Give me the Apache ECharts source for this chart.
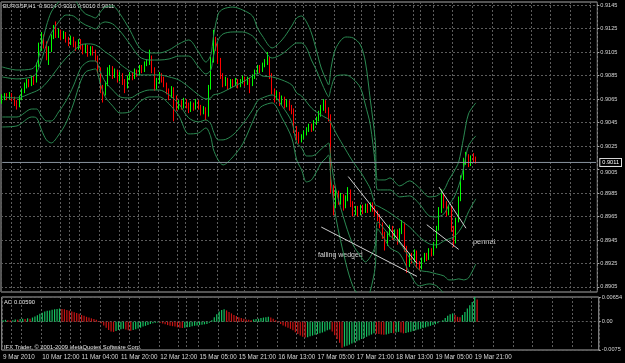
<!DOCTYPE html>
<html>
<head>
<meta charset="utf-8">
<title>EURGBP,H1</title>
<script src="https://cdn.jsdelivr.net/npm/echarts@6/dist/echarts.min.js"></script>
<style>
html,body{margin:0;padding:0;background:#000;}
#main{width:625px;height:363px;}
</style>
</head>
<body>
<div id="main"></div>
<script>
// bars per trading day: [day, first hour, last hour]
var dayBars = [['9 Mar',20,23],['10 Mar',0,23],['11 Mar',0,23],['12 Mar',0,22],['15 Mar',0,23],
               ['16 Mar',0,23],['17 Mar',0,23],['18 Mar',0,23],['19 Mar',0,22]];
var firstLabel = '9 Mar 2010';
var slots = 243;                       // bars that fit in the window
var daySeps = [4, 28, 52, 75, 99, 123, 147, 171];

// [open, close, low, high]
var candles = [
 [0.9064,0.9066,0.9061,0.9069],[0.9066,0.9068,0.9064,0.9070],[0.9068,0.9067,0.9064,0.9070],[0.9067,0.9069,0.9065,0.9071],
 [0.9069,0.9065,0.9063,0.9070],[0.9065,0.9062,0.9059,0.9067],[0.9062,0.9060,0.9056,0.9064],[0.9060,0.9066,0.9058,0.9068],
 [0.9066,0.9072,0.9064,0.9074],[0.9072,0.9076,0.9070,0.9079],[0.9076,0.9080,0.9074,0.9082],[0.9080,0.9078,0.9075,0.9082],
 [0.9078,0.9083,0.9076,0.9085],[0.9083,0.9081,0.9077,0.9085],[0.9081,0.9094,0.9079,0.9096],[0.9094,0.9110,0.9092,0.9113],
 [0.9110,0.9118,0.9106,0.9122],[0.9118,0.9112,0.9108,0.9120],[0.9112,0.9100,0.9098,0.9114],[0.9100,0.9108,0.9094,0.9110],
 [0.9108,0.9118,0.9105,0.9120],[0.9118,0.9125,0.9116,0.9128],[0.9125,0.9120,0.9117,0.9131],[0.9120,0.9122,0.9117,0.9125],
 [0.9122,0.9118,0.9115,0.9124],[0.9118,0.9121,0.9116,0.9123],[0.9121,0.9116,0.9113,0.9122],[0.9116,0.9113,0.9110,0.9118],
 [0.9113,0.9117,0.9111,0.9119],[0.9117,0.9112,0.9109,0.9118],[0.9112,0.9109,0.9106,0.9114],[0.9109,0.9114,0.9107,0.9116],
 [0.9114,0.9110,0.9107,0.9116],[0.9110,0.9106,0.9103,0.9112],[0.9106,0.9110,0.9104,0.9112],[0.9110,0.9104,0.9101,0.9111],
 [0.9104,0.9108,0.9102,0.9110],[0.9108,0.9105,0.9102,0.9110],[0.9105,0.9100,0.9097,0.9107],[0.9100,0.9090,0.9087,0.9102],
 [0.9090,0.9075,0.9070,0.9092],[0.9075,0.9070,0.9062,0.9077],[0.9070,0.9078,0.9068,0.9080],[0.9078,0.9088,0.9076,0.9092],
 [0.9088,0.9091,0.9085,0.9094],[0.9091,0.9085,0.9082,0.9093],[0.9085,0.9089,0.9083,0.9091],[0.9089,0.9082,0.9079,0.9090],
 [0.9082,0.9086,0.9080,0.9088],[0.9086,0.9080,0.9077,0.9087],[0.9080,0.9076,0.9070,0.9082],[0.9076,0.9083,0.9074,0.9085],
 [0.9083,0.9086,0.9081,0.9088],[0.9086,0.9084,0.9081,0.9088],[0.9084,0.9089,0.9082,0.9091],[0.9089,0.9087,0.9084,0.9090],
 [0.9087,0.9092,0.9085,0.9094],[0.9092,0.9090,0.9087,0.9094],[0.9090,0.9095,0.9088,0.9097],[0.9095,0.9097,0.9093,0.9099],
 [0.9097,0.9100,0.9094,0.9107],[0.9100,0.9090,0.9087,0.9102],[0.9090,0.9075,0.9072,0.9092],[0.9075,0.9080,0.9073,0.9083],
 [0.9080,0.9086,0.9078,0.9088],[0.9086,0.9082,0.9079,0.9087],[0.9082,0.9078,0.9075,0.9084],[0.9078,0.9072,0.9069,0.9079],
 [0.9072,0.9068,0.9064,0.9074],[0.9068,0.9074,0.9066,0.9076],[0.9074,0.9066,0.9046,0.9075],[0.9066,0.9058,0.9055,0.9068],
 [0.9058,0.9062,0.9056,0.9064],[0.9062,0.9059,0.9056,0.9064],[0.9059,0.9064,0.9057,0.9066],[0.9064,0.9060,0.9057,0.9065],
 [0.9060,0.9056,0.9053,0.9062],[0.9056,0.9061,0.9054,0.9063],[0.9061,0.9058,0.9055,0.9062],[0.9058,0.9063,0.9056,0.9065],
 [0.9063,0.9059,0.9056,0.9064],[0.9059,0.9054,0.9051,0.9060],[0.9054,0.9057,0.9052,0.9059],[0.9057,0.9052,0.9047,0.9058],
 [0.9052,0.9075,0.9050,0.9077],[0.9075,0.9098,0.9073,0.9101],[0.9098,0.9115,0.9096,0.9124],[0.9115,0.9110,0.9106,0.9118],
 [0.9110,0.9098,0.9095,0.9112],[0.9098,0.9085,0.9082,0.9100],[0.9085,0.9078,0.9075,0.9087],[0.9078,0.9082,0.9076,0.9084],
 [0.9082,0.9076,0.9073,0.9083],[0.9076,0.9080,0.9074,0.9082],[0.9080,0.9078,0.9075,0.9082],[0.9078,0.9081,0.9076,0.9083],
 [0.9081,0.9077,0.9074,0.9082],[0.9077,0.9080,0.9075,0.9082],[0.9080,0.9083,0.9078,0.9085],[0.9083,0.9079,0.9076,0.9084],
 [0.9079,0.9082,0.9077,0.9084],[0.9082,0.9078,0.9070,0.9083],[0.9078,0.9084,0.9076,0.9086],[0.9084,0.9088,0.9082,0.9090],
 [0.9088,0.9092,0.9086,0.9094],[0.9092,0.9090,0.9087,0.9094],[0.9090,0.9094,0.9088,0.9096],[0.9094,0.9097,0.9092,0.9099],
 [0.9097,0.9099,0.9094,0.9105],[0.9099,0.9085,0.9082,0.9101],[0.9085,0.9072,0.9069,0.9087],[0.9072,0.9066,0.9062,0.9074],
 [0.9066,0.9070,0.9064,0.9072],[0.9070,0.9062,0.9059,0.9071],[0.9062,0.9066,0.9060,0.9068],[0.9066,0.9060,0.9057,0.9067],
 [0.9060,0.9063,0.9058,0.9065],[0.9063,0.9058,0.9055,0.9064],[0.9058,0.9055,0.9052,0.9060],[0.9055,0.9040,0.9036,0.9057],
 [0.9040,0.9035,0.9030,0.9042],[0.9035,0.9030,0.9027,0.9037],[0.9030,0.9033,0.9028,0.9035],[0.9033,0.9036,0.9031,0.9038],
 [0.9036,0.9039,0.9034,0.9041],[0.9039,0.9042,0.9037,0.9044],[0.9042,0.9040,0.9037,0.9044],[0.9040,0.9045,0.9038,0.9047],
 [0.9045,0.9048,0.9043,0.9050],[0.9048,0.9052,0.9046,0.9055],[0.9052,0.9058,0.9050,0.9060],[0.9058,0.9062,0.9055,0.9065],
 [0.9062,0.9056,0.9053,0.9064],[0.9056,0.9050,0.9046,0.9058],[0.9050,0.8990,0.8985,0.9052],[0.8990,0.8975,0.8966,0.8992],
 [0.8975,0.8985,0.8972,0.8990],[0.8985,0.8978,0.8975,0.8987],[0.8978,0.8982,0.8975,0.8985],[0.8982,0.8974,0.8970,0.8984],
 [0.8974,0.8980,0.8972,0.8983],[0.8980,0.8986,0.8978,0.8990],[0.8986,0.8976,0.8973,0.8988],[0.8976,0.8969,0.8965,0.8978],
 [0.8969,0.8972,0.8966,0.8974],[0.8972,0.8968,0.8965,0.8974],[0.8968,0.8973,0.8966,0.8975],[0.8973,0.8970,0.8967,0.8975],
 [0.8970,0.8974,0.8968,0.8976],[0.8974,0.8971,0.8968,0.8976],[0.8971,0.8975,0.8969,0.8977],[0.8975,0.8972,0.8969,0.8977],
 [0.8972,0.8968,0.8965,0.8974],[0.8968,0.8965,0.8961,0.8970],[0.8965,0.8958,0.8955,0.8967],[0.8958,0.8950,0.8946,0.8960],
 [0.8950,0.8942,0.8936,0.8952],[0.8942,0.8950,0.8940,0.8952],[0.8950,0.8955,0.8948,0.8958],[0.8955,0.8948,0.8945,0.8957],
 [0.8948,0.8952,0.8946,0.8954],[0.8952,0.8945,0.8941,0.8954],[0.8945,0.8952,0.8943,0.8955],[0.8952,0.8958,0.8950,0.8962],
 [0.8958,0.8938,0.8935,0.8960],[0.8938,0.8925,0.8917,0.8940],[0.8925,0.8932,0.8922,0.8934],[0.8932,0.8928,0.8925,0.8934],
 [0.8928,0.8935,0.8926,0.8937],[0.8935,0.8925,0.8921,0.8936],[0.8925,0.8922,0.8919,0.8927],[0.8922,0.8928,0.8920,0.8930],
 [0.8928,0.8932,0.8926,0.8934],[0.8932,0.8930,0.8927,0.8934],[0.8930,0.8936,0.8928,0.8938],[0.8936,0.8934,0.8931,0.8938],
 [0.8934,0.8940,0.8932,0.8943],[0.8940,0.8955,0.8938,0.8957],[0.8955,0.8970,0.8953,0.8973],[0.8970,0.8982,0.8968,0.8988],
 [0.8982,0.8976,0.8972,0.8985],[0.8976,0.8968,0.8965,0.8978],[0.8968,0.8972,0.8966,0.8975],[0.8972,0.8955,0.8952,0.8974],
 [0.8955,0.8944,0.8939,0.8957],[0.8944,0.8962,0.8942,0.8964],[0.8962,0.8980,0.8960,0.8982],[0.8980,0.8998,0.8978,0.9000],
 [0.8998,0.9012,0.8996,0.9015],[0.9012,0.9016,0.9009,0.9020],[0.9016,0.9010,0.9007,0.9018],[0.9010,0.9015,0.9008,0.9017],
 [0.9015,0.9014,0.9011,0.9019],[0.9014,0.9011,0.9010,0.9016]
];

var priceTicks = [0.8905,0.8925,0.8945,0.8965,0.8985,0.9005,0.9025,0.9045,0.9065,0.9085,0.9105,0.9125,0.9145];
var lastPrice = 0.9011;
var titleText = 'EURGBP,H1  0.9014 0.9016 0.9010 0.9011';

// bollinger lines read at these bars
var bandIdx = [0,6,12,14,16,18,20,23,26,29, 32,34,36,38,40,42,45,48,52,56,
               60,64,68,72,76,80,83,85,86,88, 90,94,98,102,104,106,110,114,118,120,
               122,124,126,128,130,132,133,134,136,140, 143,146,148,150,152,153,156,158,162,166,
               170,174,177,180,182,184,186,188,190,193];
var bbUp3 = [0.90923,0.90897,0.90906,0.90948,0.91102,0.91272,0.91391,0.91476,0.91536,0.91510,
             0.91416,0.91374,0.91357,0.91340,0.91391,0.91433,0.91442,0.91374,0.91238,0.91085,
             0.91042,0.91042,0.91068,0.91119,0.91153,0.91051,0.90965,0.91025,0.91170,0.91374,
             0.91416,0.91433,0.91408,0.91357,0.91255,0.91187,0.91085,0.91153,0.91272,0.91340,
             0.91357,0.91306,0.91212,0.91068,0.90914,0.90812,0.90770,0.90914,0.91085,0.91178,
             0.91170,0.91110,0.90965,0.90642,0.90302,0.89961,0.89961,0.89978,0.89910,0.89953,
             0.89893,0.89817,0.89825,0.89876,0.89961,0.90029,0.90114,0.90319,0.90523,0.90617];
var bbUp2 = [0.90838,0.90821,0.90838,0.90872,0.90982,0.91110,0.91212,0.91306,0.91365,0.91357,
             0.91306,0.91280,0.91263,0.91246,0.91289,0.91306,0.91289,0.91229,0.91119,0.91008,
             0.90982,0.90982,0.90991,0.91016,0.91016,0.90923,0.90863,0.90897,0.91008,0.91153,
             0.91204,0.91221,0.91221,0.91187,0.91136,0.91085,0.90999,0.91033,0.91102,0.91127,
             0.91127,0.91085,0.90982,0.90897,0.90795,0.90702,0.90668,0.90744,0.90846,0.90855,
             0.90821,0.90744,0.90599,0.90429,0.90097,0.89876,0.89876,0.89876,0.89817,0.89825,
             0.89757,0.89655,0.89646,0.89672,0.89748,0.89808,0.89910,0.90063,0.90251,0.90336];
var bbMid = [0.90668,0.90659,0.90702,0.90719,0.90744,0.90787,0.90838,0.90923,0.90999,0.91059,
             0.91110,0.91119,0.91119,0.91110,0.91085,0.91051,0.91008,0.90948,0.90889,0.90855,
             0.90855,0.90855,0.90838,0.90812,0.90753,0.90685,0.90651,0.90659,0.90685,0.90693,
             0.90710,0.90753,0.90795,0.90846,0.90872,0.90846,0.90838,0.90812,0.90770,0.90702,
             0.90676,0.90625,0.90574,0.90540,0.90514,0.90489,0.90480,0.90446,0.90361,0.90217,
             0.90114,0.90029,0.89961,0.89885,0.89748,0.89740,0.89706,0.89680,0.89621,0.89561,
             0.89476,0.89417,0.89408,0.89442,0.89459,0.89476,0.89519,0.89587,0.89689,0.89800];
var bbLo2 = [0.90497,0.90497,0.90565,0.90565,0.90506,0.90463,0.90463,0.90540,0.90634,0.90761,
             0.90914,0.90957,0.90974,0.90974,0.90880,0.90795,0.90727,0.90668,0.90659,0.90702,
             0.90727,0.90727,0.90685,0.90608,0.90489,0.90455,0.90472,0.90438,0.90378,0.90302,
             0.90302,0.90344,0.90438,0.90557,0.90634,0.90659,0.90685,0.90591,0.90455,0.90276,
             0.90234,0.90165,0.90165,0.90183,0.90225,0.90259,0.90276,0.90123,0.89876,0.89578,
             0.89408,0.89314,0.89263,0.89306,0.89400,0.89604,0.89536,0.89485,0.89425,0.89297,
             0.89195,0.89178,0.89161,0.89144,0.89110,0.89110,0.89119,0.89110,0.89127,0.89246];
var bbLo3 = [0.90412,0.90421,0.90497,0.90489,0.90387,0.90302,0.90276,0.90344,0.90446,0.90608,
             0.90804,0.90880,0.90897,0.90906,0.90778,0.90668,0.90591,0.90531,0.90540,0.90625,
             0.90668,0.90668,0.90608,0.90506,0.90353,0.90361,0.90404,0.90327,0.90225,0.90131,
             0.90089,0.90157,0.90268,0.90455,0.90548,0.90591,0.90617,0.90489,0.90319,0.90131,
             0.90046,0.89944,0.89961,0.90029,0.90106,0.90148,0.90174,0.89961,0.89638,0.89255,
             0.89051,0.88957,0.88915,0.89017,0.89221,0.89544,0.89451,0.89383,0.89332,0.89170,
             0.89059,0.89076,0.89059,0.88991,0.88923,0.88923,0.88932,0.88872,0.88838,0.88974];

// awesome oscillator, one value per bar
var aoValues = [
 0.0004,0.0005,0.0004,0.0003, 0.0004,0.0006,0.0005,0.0007,0.0008,0.0007,0.0009,0.0008,
 0.0011,0.0014,0.0017,0.0021,0.0024, 0.0027,0.0029,0.0030,0.0032,0.0033,0.0034,0.0035,0.0034,
 0.0033,0.0031,0.0029,0.0027,0.0025,0.0023,0.0021, 0.0018,0.0016,0.0013,0.0011,0.0009,0.0007,0.0005,0.0002,
 -0.0004,-0.0010,-0.0016,-0.0022,-0.0026,-0.0027,-0.0025,-0.0022,
 -0.0020,-0.0019,-0.0021,-0.0023,-0.0024,-0.0022,-0.0020,-0.0018,
 -0.0016,-0.0013,-0.0011,-0.0009,-0.0006,-0.0004,-0.0003,-0.0002,
 -0.0003,-0.0005,-0.0007,-0.0009,-0.0011,-0.0012,-0.0013,-0.0015,-0.0016,-0.0017,-0.0016,
 -0.0015,-0.0014,-0.0012,-0.0011,-0.0010,-0.0009,-0.0008,-0.0007,-0.0006,-0.0003,0.0004,
 0.0012,0.0020,0.0027,0.0031,0.0033,0.0030,0.0026,0.0022,
 0.0018,0.0015,0.0012,0.0010,0.0008,0.0006,0.0005,0.0004,
 0.0006,0.0007,0.0008,0.0010,0.0011,0.0012,0.0013,0.0011,0.0008,0.0004,
 -0.0002,-0.0006,-0.0010,-0.0013,-0.0016,-0.0019,-0.0023,-0.0028,-0.0033,-0.0037,-0.0040,-0.0042,
 -0.0041,-0.0039,-0.0037,-0.0035,-0.0033,-0.0031,-0.0029,-0.0026,-0.0023,-0.0021,
 -0.0026,-0.0036,-0.0046,-0.0056,-0.0069,-0.0066,
 -0.0064,-0.0061,-0.0058,-0.0055,-0.0052,-0.0049,-0.0046,-0.0043,-0.0040,-0.0037,-0.0034,-0.0031,
 -0.0032,-0.0033,-0.0034,-0.0035,-0.0034,
 -0.0032,-0.0030,-0.0031,-0.0029,-0.0027,-0.0029,-0.0031,-0.0030,-0.0028,-0.0027,
 -0.0025,-0.0023,-0.0021,-0.0019,-0.0017,-0.0015,-0.0013,-0.0011,-0.0009,-0.0007,-0.0004,-0.0001,
 0.0004,0.0010,0.0016,0.0020,0.0022, 0.0018,0.0013,0.0012,
 0.0018,0.0026,0.0035,0.0044,0.0052,0.00654,0.0059
];
var aoTicks = [-0.0075, 0, 0.00654];
var aoTickLabels = ['-0.0075', '0.00', '0.00654'];
var aoText = 'AO 0.00590';
var copyText = 'IFX Trader, \u00a9 2001-2009 MetaQuotes Software Corp.';

// hand drawn trend lines [bar, price]
var wedgeTop = [[141, 0.8999], [169, 0.8925]];
var wedgeBottom = [[130, 0.8956], [169, 0.8914]];
var pennantTop = [[178, 0.8990], [189, 0.8955]];
var pennantBottom = [[173, 0.8958], [186, 0.8937]];

// time labels for every bar, empty slots to the right
var categories = [];
for (var d = 0; d < dayBars.length; d++) {
    for (var h = dayBars[d][1]; h <= dayBars[d][2]; h++) {
        categories.push(dayBars[d][0] + ' ' + (h < 10 ? '0' + h : h) + ':00');
    }
}
categories[0] = firstLabel;
while (categories.length < slots) categories.push('');

function pairs(arr) {
    var out = [];
    for (var k = 0; k < bandIdx.length; k++) out.push([bandIdx[k], arr[k]]);
    return out;
}
function near(a, b) { return Math.abs(a - b) < 1e-9; }

var gridLine = {color: '#5c5c5c', type: [2, 2], width: 1};
var vGrid = function (index) {
    return index % 8 === 0 || daySeps.indexOf(index) >= 0;
};
var bandColor = '#2b8a52';
var labelColor = '#d6d6d6';

function bandSeries(arr) {
    return {
        type: 'line', xAxisIndex: 0, yAxisIndex: 0,
        data: pairs(arr), smooth: 0.3, symbol: 'none', silent: true,
        lineStyle: {color: bandColor, width: 1}, z: 3
    };
}
function trendSeries(pts, color) {
    return {
        type: 'line', xAxisIndex: 0, yAxisIndex: 0, data: pts, symbol: 'none', silent: true,
        lineStyle: {color: color || '#cfcfcf', width: 1}, z: 4
    };
}

// the tick just under the price box is nudged down, as in the terminal
function priceLabel(v) {
    if (near(v, lastPrice)) return '{box|' + v.toFixed(4) + '}';
    if (v < lastPrice && lastPrice - v < 0.001) return '{low|' + v.toFixed(4) + '}';
    return v.toFixed(4);
}

var chart = echarts.init(document.getElementById('main'));
var option = {
    backgroundColor: '#000',
    animation: false,
    textStyle: {fontFamily: 'Liberation Sans'},
    grid: [
        {left: 1, right: 22, top: 2, height: 290, show: true, borderColor: '#a8a8a8', borderWidth: 1},
        {left: 1, right: 22, top: 297, height: 53, show: true, borderColor: '#a8a8a8', borderWidth: 1}
    ],
    xAxis: [
        {type: 'category', gridIndex: 0, data: categories, boundaryGap: true,
         axisLine: {show: false}, axisTick: {show: false}, axisLabel: {show: false},
         splitLine: {show: true, interval: vGrid, lineStyle: gridLine}},
        {type: 'category', gridIndex: 1, data: categories, boundaryGap: true,
         axisLine: {show: false}, axisTick: {show: false},
         axisLabel: {show: true, interval: function (i) { return i % 16 === 0; },
                     align: 'left', color: labelColor, fontSize: 6.3, margin: 4},
         splitLine: {show: true, interval: vGrid, lineStyle: gridLine}}
    ],
    yAxis: [
        {type: 'value', gridIndex: 0, position: 'right', min: 0.89007, max: 0.91476,
         axisLine: {show: false},
         axisTick: {show: true, customValues: priceTicks, length: 2, lineStyle: {color: '#a8a8a8'}},
         axisLabel: {customValues: priceTicks.concat([lastPrice]), color: labelColor, fontSize: 5.6, margin: 3,
                     formatter: priceLabel,
                     rich: {box: {color: '#fff', backgroundColor: '#000', borderColor: '#e0e0e0',
                                  borderWidth: 1, padding: [1, 2, 0, 2], fontSize: 5.6},
                            low: {color: labelColor, fontSize: 5.6, padding: [5, 0, 0, 0]}}},
         splitLine: {show: true, lineStyle: gridLine}},
        {type: 'value', gridIndex: 1, position: 'right', min: -0.00752, max: 0.00656,
         axisLine: {show: false},
         axisTick: {show: true, customValues: aoTicks, length: 2, lineStyle: {color: '#a8a8a8'}},
         axisLabel: {customValues: aoTicks, color: labelColor, fontSize: 5.6, margin: 3,
                     formatter: function (v) {
                         for (var k = 0; k < aoTicks.length; k++) {
                             if (near(aoTicks[k], v)) return aoTickLabels[k];
                         }
                         return '';
                     }},
         splitLine: {show: true, lineStyle: gridLine}}
    ],
    series: [
        {
            type: 'candlestick', xAxisIndex: 0, yAxisIndex: 0, data: candles,
            barWidth: 1, silent: true, z: 2,
            itemStyle: {color: '#00ff00', color0: '#ff0000', borderColor: '#00ff00',
                        borderColor0: '#ff0000', borderWidth: 1}
        },
        // current price line
        trendSeries([[0, lastPrice], [slots - 1, lastPrice]], '#8a94a0'),
        bandSeries(bbUp3), bandSeries(bbUp2), bandSeries(bbMid), bandSeries(bbLo2), bandSeries(bbLo3),
        trendSeries(wedgeTop), trendSeries(wedgeBottom), trendSeries(pennantTop), trendSeries(pennantBottom),
        {
            type: 'bar', xAxisIndex: 1, yAxisIndex: 1, data: aoValues, barWidth: 1.2, silent: true,
            itemStyle: {color: function (p) {
                var i = p.dataIndex;
                return (i === 0 || aoValues[i] >= aoValues[i - 1]) ? '#16c060' : '#c81414';
            }}
        }
    ],
    graphic: [
        {type: 'text', left: 3, top: 3, style: {text: titleText, fill: '#e8e8e8', font: '5.8px "Liberation Sans"'}},
        {type: 'text', left: 4, top: 299, style: {text: aoText, fill: '#e8e8e8', font: '5.8px "Liberation Sans"'}},
        {type: 'text', left: 4, top: 344, style: {text: copyText, fill: '#e8e8e8', font: '5.8px "Liberation Sans"'}},
        {type: 'text', left: 318, top: 252, style: {text: 'falling wedged', fill: '#d8d8d8', font: '7px "Liberation Sans"'}},
        {type: 'text', left: 473, top: 238, style: {text: 'pennat', fill: '#d8d8d8', font: '7.4px "Liberation Sans"'}}
    ]
};
chart.setOption(option);
</script>
</body>
</html>
